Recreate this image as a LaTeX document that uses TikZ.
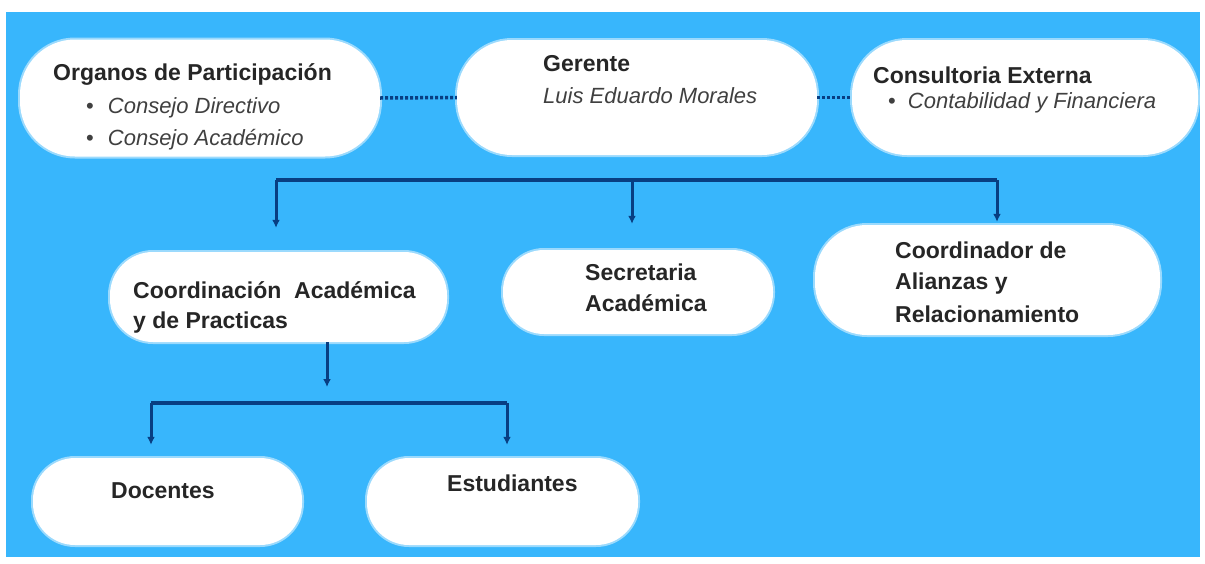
\documentclass[tikz,border=0pt]{standalone}
\usepackage{fontspec}
\setmainfont{Liberation Sans}
\usetikzlibrary{arrows.meta}
\definecolor{fondo}{RGB}{56,182,252}
\definecolor{linea}{RGB}{8,62,130}

\tikzset{
  caja/.style={fill=white, draw=none, inner sep=0pt,
    preaction={draw=white, line width=4pt, opacity=.5}},
  titulo/.style={anchor=base west, inner sep=0pt,
    font=\fontsize{23}{27}\selectfont\bfseries, text=black!85},
  item/.style={anchor=base west, inner sep=0pt,
    font=\fontsize{22}{26}\selectfont\itshape, text=black!75},
  union/.style={linea, line width=3.5pt},
  punteado/.style={linea, line width=3.5pt, dash pattern=on 3pt off 2pt},
  flecha/.style={linea, line width=3pt, -{Latex[length=8pt,width=8pt]}}
}

\begin{document}
\begin{tikzpicture}[x=1pt,y=-1pt]
  \useasboundingbox (0,0) rectangle (1205,563);
  \fill[fondo] (6,12) rectangle (1200,557);

  % cajas
  \node[caja, rounded corners=55pt, minimum width=360pt, minimum height=117pt] (org) at (200,98) {};
  \node[caja, rounded corners=55pt, minimum width=360pt, minimum height=115pt] (ger) at (637,97.5) {};
  \node[caja, rounded corners=55pt, minimum width=346pt, minimum height=115pt] (con) at (1025,97.5) {};
  \node[caja, rounded corners=43pt, minimum width=337pt, minimum height=90pt] (coa) at (278.5,297) {};
  \node[caja, rounded corners=41pt, minimum width=270pt, minimum height=84pt] (sec) at (638,292) {};
  \node[caja, rounded corners=52pt, minimum width=345pt, minimum height=110pt] (ali) at (987.5,280) {};
  \node[caja, rounded corners=42pt, minimum width=269pt, minimum height=87pt] (doc) at (167.5,501.5) {};
  \node[caja, rounded corners=42pt, minimum width=271pt, minimum height=87pt] (est) at (502.5,501.5) {};

  % textos
  \node[titulo] (org-t) at (53,80) {Organos de Participación};
  \node[item] (org-1) at (86,113) {{\upshape\textbullet}\hspace{14pt}Consejo Directivo};
  \node[item] (org-2) at (86,145) {{\upshape\textbullet}\hspace{14pt}Consejo Académico};
  \node[titulo] (ger-t) at (543,71) {Gerente};
  \node[item] (ger-1) at (543,103) {Luis Eduardo Morales};
  \node[titulo] (con-t) at (873,83) {Consultoria Externa};
  \node[item] (con-1) at (888,108) {{\upshape\textbullet}\hspace{12pt}Contabilidad y Financiera};
  \node[titulo] (coa-1) at (133,298) {Coordinación\ \ Académica};
  \node[titulo] (coa-2) at (133,328) {y de Practicas};
  \node[titulo] (sec-1) at (585,280) {Secretaria};
  \node[titulo] (sec-2) at (585,311) {Académica};
  \node[titulo] (ali-1) at (895,258) {Coordinador de};
  \node[titulo] (ali-2) at (895,289) {Alianzas y};
  \node[titulo] (ali-3) at (895,322) {Relacionamiento};
  \node[titulo] (doc-t) at (111,498) {Docentes};
  \node[titulo] (est-t) at (447,491) {Estudiantes};

  % enlaces
  \draw[punteado] (org.east) -- (ger.west);
  \draw[punteado] (ger.east) -- (con.west);

  \coordinate (b1) at (276,180);
  \coordinate (b2) at (632,180);
  \coordinate (b3) at (997,180);
  \draw[union] (b1) -- (b3);
  \draw[flecha, shorten >=24pt] (b1) -- (b1 |- coa.north);
  \draw[flecha, shorten >=26pt] (b2) -- (b2 |- sec.north);
  \draw[flecha, shorten >=3pt] (b3) -- (b3 |- ali.north);

  \coordinate (c1) at (327,387);
  \draw[flecha] (c1 |- coa.south) -- (c1);

  \coordinate (d1) at (151,403);
  \coordinate (d2) at (507,403);
  \draw[union] (d1) -- (d2);
  \draw[flecha, shorten >=13pt] (d1) -- (d1 |- doc.north);
  \draw[flecha, shorten >=13pt] (d2) -- (d2 |- est.north);
\end{tikzpicture}
\end{document}
